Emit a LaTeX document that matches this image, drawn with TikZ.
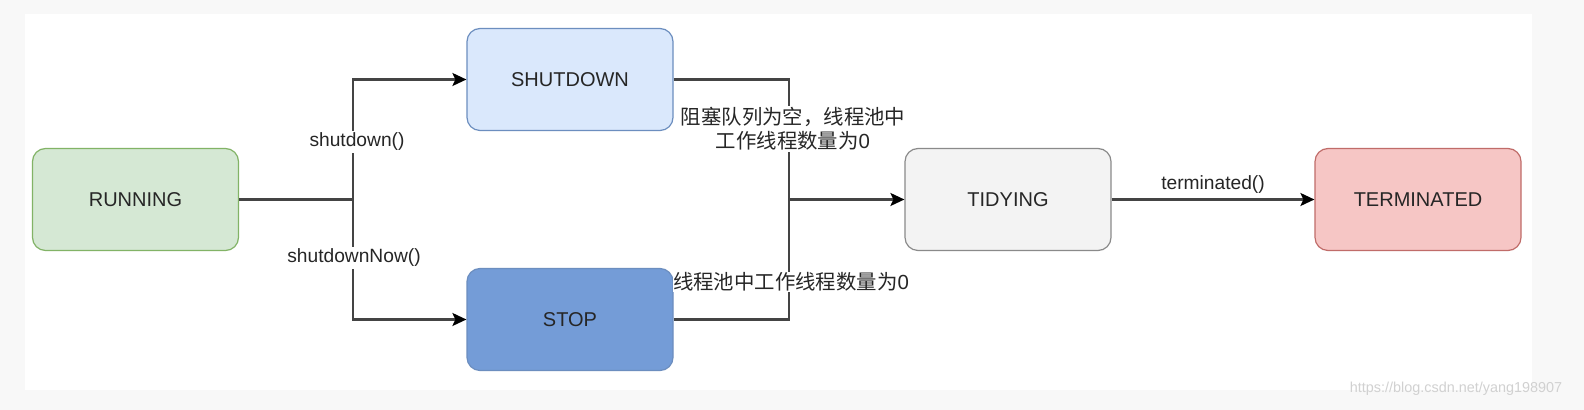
\documentclass[tikz,border=0pt]{standalone}
\usepackage{fontspec}
\setmainfont{Liberation Sans}
\newfontfamily\cjk{Noto Sans CJK SC}
\usetikzlibrary{arrows.meta}
\definecolor{runfill}{HTML}{D5E8D4}\definecolor{runline}{HTML}{82B366}
\definecolor{sdfill}{HTML}{DAE8FC}\definecolor{sdline}{HTML}{6C8EBF}
\definecolor{stopfill}{HTML}{749CD7}\definecolor{stopline}{HTML}{6C8EBF}
\definecolor{tidfill}{HTML}{F3F3F3}\definecolor{tidline}{HTML}{8A8A8A}
\definecolor{termfill}{HTML}{F6C6C5}\definecolor{termline}{HTML}{C06C69}
\definecolor{edgecol}{HTML}{444444}
\definecolor{outerbg}{HTML}{F8F8F8}
\tikzset{
  state/.style={rounded corners=6.5pt, line width=0.6pt, minimum width=103pt, minimum height=51pt, inner sep=0pt, font=\fontsize{10}{12}\selectfont, text=black!85},
  conn/.style={draw=edgecol, line width=1.1pt},
  arr/.style={conn, -{Stealth[length=7pt,width=6.5pt,inset=1.5pt,fill=black,color=black]}},
  lbl/.style={fill=white, inner sep=1pt, font=\fontsize{9.6}{11.5}\selectfont, text=black!85, align=center},
  cjklbl/.style={lbl, font=\fontsize{10.2}{12}\selectfont}
}
\begin{document}
\begin{tikzpicture}[x=0.5pt,y=-0.5pt]
\useasboundingbox (0,0) rectangle (1584,410);
\fill[outerbg] (0,0) rectangle (1584,410);
\fill[white] (25,14) rectangle (1532,390);
\node[state, fill=runfill, draw=runline] (run) at (135.5,199.5) {RUNNING};
\node[state, fill=sdfill, draw=sdline] (sd) at (570,79.5) {SHUTDOWN};
\node[state, fill=stopfill, draw=stopline] (stop) at (570,319.5) {STOP};
\node[state, fill=tidfill, draw=tidline] (tid) at (1008,199.5) {TIDYING};
\node[state, fill=termfill, draw=termline] (term) at (1418,199.5) {TERMINATED};
\coordinate (split) at (353,199.5);
\coordinate (merge) at (789,199.5);
\draw[conn] (run.east) -- (split);
\draw[arr] (split) |- (sd.west);
\draw[arr] (split) |- (stop.west);
\draw[conn] (sd.east) -| (merge);
\draw[conn] (stop.east) -| (merge);
\draw[arr] (merge) -- (tid.west);
\draw[arr] (tid.east) -- (term.west);
\node[lbl] (l1) at (357,142) {shutdown()};
\node[lbl] (l2) at (354,258) {shutdownNow()};
\node[cjklbl] (l3) at (793,129) {{\cjk 阻塞队列为空，线程池中}\\{\cjk 工作线程数量为}0};
\node[cjklbl, inner xsep=0pt, inner ysep=0.5pt] (l4) at (791,282) {{\cjk 线程池中工作线程数量为}0};
\node[lbl, fill=none] (l5) at (1213,185) {terminated()};
\node[font=\fontsize{7.2}{8}\selectfont, text=black!18, inner sep=0pt] (wm) at (1456,389) {https://blog.csdn.net/yang198907};
\end{tikzpicture}
\end{document}
